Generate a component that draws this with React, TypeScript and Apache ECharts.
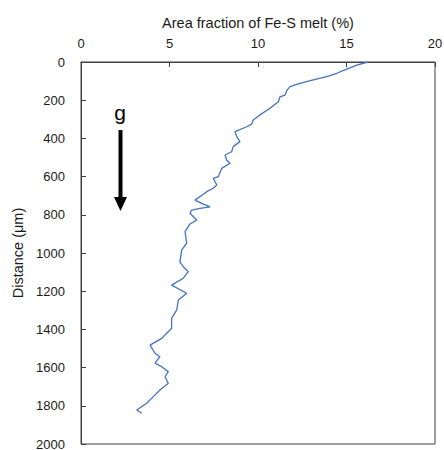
import React, { useEffect, useRef } from "react";
import * as echarts from "echarts";

const distance = [
  0, 16, 37, 59, 77, 94, 112, 129, 147, 173,
  183, 208, 242, 277, 304, 325, 339, 365, 391, 417,
  443, 470, 487, 513, 530, 557, 600, 609, 644, 661,
  679, 705, 723, 740, 758, 766, 775, 792, 827, 848,
  888, 949, 984, 1046, 1072, 1098, 1132, 1168, 1211, 1246, 1298,
  1342, 1394, 1412, 1447, 1482, 1525, 1543, 1577, 1595, 1621,
  1648, 1682, 1717, 1761, 1787, 1822, 1839,
];

const areaFraction = [
  16.21, 15.58, 15.01, 14.45, 13.88, 13.12, 12.37, 11.81, 11.64, 11.53,
  11.24, 11.15, 10.68, 10.11, 9.73, 9.64, 9.36, 8.7, 8.8, 8.98,
  8.6, 8.51, 8.14, 8.23, 8.42, 7.95, 7.76, 7.47, 7.67, 7.47,
  7.1, 6.72, 6.44, 6.82, 7.29, 6.72, 6.25, 6.16, 6.54, 6.16,
  5.88, 5.97, 5.69, 5.59, 5.78, 6.06, 5.78, 5.12, 5.97, 5.5, 5.41,
  5.12, 5.12, 4.93, 4.56, 3.9, 4.18, 4.46, 4.18, 4.56, 4.93,
  4.75, 4.93, 4.46, 3.99, 3.71, 3.15, 3.43,
];

const xTitle = "Area fraction of Fe-S melt (%)";
const yTitle = "Distance (μm)";
const arrowLabel = "g";

const FONT = "'Liberation Sans', Arial, sans-serif";
const TEXT = "#1a1a1a";
const AXIS = "#404040";

export default function App() {
  const ref = useRef<HTMLDivElement>(null);
  useEffect(() => {
    if (!ref.current) return;
    const chart = echarts.init(ref.current, undefined, { renderer: "svg" });
    const data = distance.map((d, i) => [areaFraction[i], d]);
    chart.setOption({
      animation: false,
      backgroundColor: "#ffffff",
      textStyle: { fontFamily: FONT },
      grid: {
        left: 81,
        top: 62,
        right: 9,
        bottom: 6,
        show: true,
        borderColor: AXIS,
        borderWidth: 1,
        containLabel: false,
        outerBoundsMode: "none",
      },
      xAxis: {
        type: "value",
        position: "top",
        min: 0,
        max: 20,
        interval: 5,
        name: xTitle,
        nameLocation: "middle",
        nameGap: 32,
        nameTextStyle: { fontSize: 14.5, color: TEXT, fontFamily: FONT },
        axisLine: { show: true, lineStyle: { color: AXIS, width: 1 } },
        axisTick: { show: true, inside: true, length: 5, lineStyle: { color: AXIS } },
        axisLabel: { fontSize: 13, color: TEXT, margin: 12, fontFamily: FONT },
        splitLine: { show: false },
      },
      yAxis: {
        type: "value",
        inverse: true,
        min: 0,
        max: 2000,
        interval: 200,
        name: yTitle,
        nameLocation: "middle",
        nameGap: 56,
        nameTextStyle: { fontSize: 14.5, color: TEXT, fontFamily: FONT },
        axisLine: { show: true, lineStyle: { color: AXIS, width: 1 } },
        axisTick: { show: true, inside: true, length: 5, lineStyle: { color: AXIS } },
        axisLabel: {
          fontSize: 13,
          color: TEXT,
          margin: 16,
          fontFamily: FONT,
          formatter: (v: number) => String(v),
        },
        splitLine: { show: false },
      },
      series: [
        {
          type: "line",
          data,
          showSymbol: false,
          symbol: "none",
          lineStyle: { color: "#4472C4", width: 1.3 },
        },
      ],
      graphic: [
        {
          type: "text",
          x: 120,
          y: 112,
          style: {
            text: arrowLabel,
            fontSize: 21,
            fontFamily: FONT,
            fill: "#000",
            align: "center",
            verticalAlign: "middle",
          },
        },
        {
          type: "line",
          shape: { x1: 120.5, y1: 130, x2: 120.5, y2: 199 },
          style: { stroke: "#000", lineWidth: 4 },
        },
        {
          type: "polygon",
          shape: { points: [[114, 197], [127, 197], [120.5, 211]] },
          style: { fill: "#000" },
        },
      ],
    });
    return () => chart.dispose();
  }, []);
  return (
    <div
      ref={ref}
      style={{ position: "fixed", left: 0, top: 0, width: 444, height: 450 }}
    />
  );
}
